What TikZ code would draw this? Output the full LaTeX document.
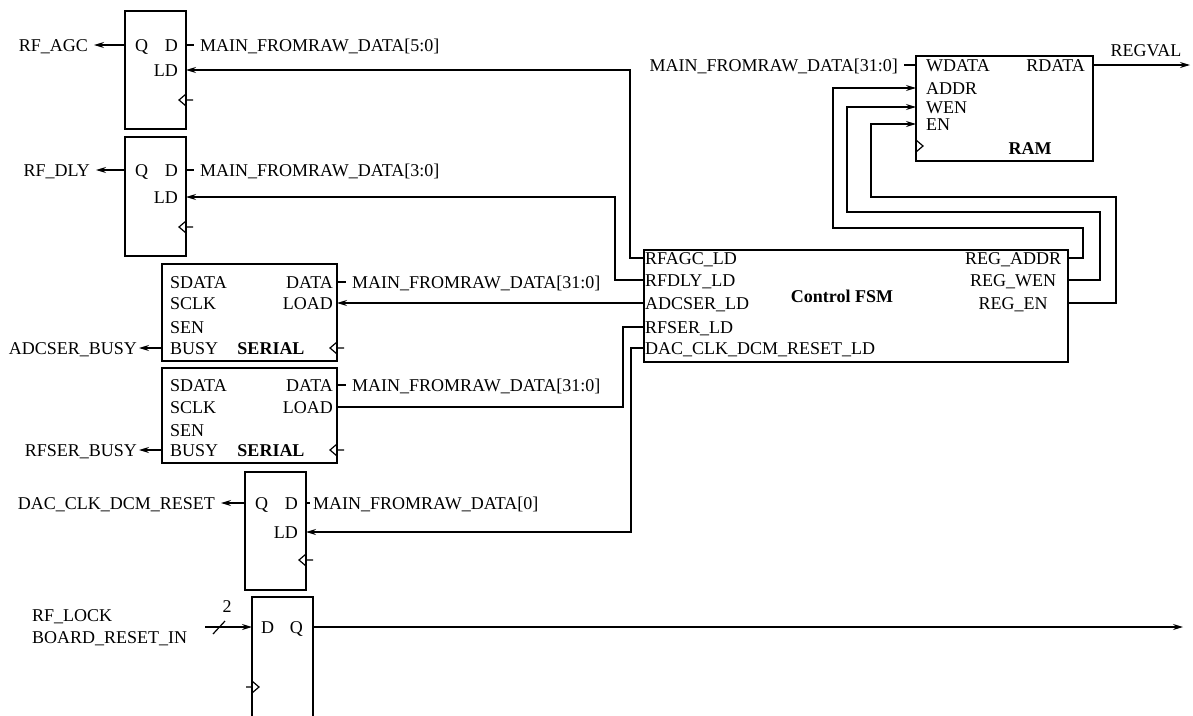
\documentclass[tikz,border=0pt]{standalone}
\usepackage{fontspec}
\setmainfont{Liberation Serif}
\usetikzlibrary{arrows.meta,positioning,calc}
\newcommand{\sigfont}{\fontsize{18}{18}\selectfont}
% clock marks: on the right edge (pointing in, stub out) and on the left edge
\newcommand{\clkright}[1]{\draw[clk] ($(#1)+(0,-6)$) -- ++(-7,6) -- ++(7,6) (#1) -- ++(7,0);}
\newcommand{\clkleft}[2]{\draw[clk] ($(#1)+(0,-6)$) -- ++(7,6) -- ++(-7,6) (#1) -- ++(-#2,0);}

\begin{document}
\begin{tikzpicture}[x=1pt, y=-1pt,
  blk/.style={draw, line width=1.4pt, inner sep=0pt, outer sep=0pt, anchor=north west},
  pl/.style={inner sep=0pt, text height=13pt, text depth=1pt, font=\sigfont},
  sig/.style={inner ysep=0pt, inner xsep=6pt, text height=13pt, text depth=1pt, font=\sigfont},
  ttl/.style={inner sep=0pt, font=\sigfont\bfseries},
  wire/.style={line width=1.2pt},
  arr/.style={wire, -{Stealth[length=10pt,width=6pt]}},
  clk/.style={line width=1.2pt}]
\useasboundingbox[fill=white] (0,0) rectangle (1193,715);

% blocks
\node[blk, minimum width=61pt, minimum height=118pt] (agc) at (125,11) {};
\node[blk, minimum width=61pt, minimum height=119pt] (dly) at (125,137) {};
\node[blk, minimum width=175pt, minimum height=97pt] (sadc) at (162,264) {};
\node[blk, minimum width=175pt, minimum height=95pt] (srf) at (162,368) {};
\node[blk, minimum width=61pt, minimum height=118pt] (dac) at (245,472) {};
\node[blk, minimum width=61pt, minimum height=130pt] (sync) at (252,597) {};
\node[blk, minimum width=424pt, minimum height=112pt] (fsm) at (644,250) {};
\node[blk, minimum width=177pt, minimum height=105pt] (ram) at (916,56) {};

% RF_AGC register
\node[pl, anchor=west] (agcq) at (135,45) {Q};
\node[pl, anchor=east] (agcd) at (178,45) {D};
\node[pl, anchor=east] (agcld) at (178,70) {LD};
\clkright{186,100}
\node[sig, anchor=east] (oagc) at (94,45) {RF\_AGC};
\node[sig, anchor=west] (iagc) at (194,45) {MAIN\_FROMRAW\_DATA[5:0]};
\draw[arr] (agc.west |- agcq) -- (oagc);
\draw[wire] (agc.east |- agcd) -- (iagc);

% RF_DLY register
\node[pl, anchor=west] (dlyq) at (135,170) {Q};
\node[pl, anchor=east] (dlyd) at (178,170) {D};
\node[pl, anchor=east] (dlyld) at (178,197) {LD};
\clkright{186,227}
\node[sig, anchor=east] (odly) at (96,170) {RF\_DLY};
\node[sig, anchor=west] (idly) at (194,170) {MAIN\_FROMRAW\_DATA[3:0]};
\draw[arr] (dly.west |- dlyq) -- (odly);
\draw[wire] (dly.east |- dlyd) -- (idly);

% ADC serial
\node[pl, anchor=west] (sadc1) at (170,282) {SDATA};
\node[pl, anchor=west] (sadc2) at (170,303) {SCLK};
\node[pl, anchor=west] (sadc3) at (170,327) {SEN};
\node[pl, anchor=west] (sadcbusy) at (170,348) {BUSY};
\node[pl, anchor=east] (sadcdata) at (333,282) {DATA};
\node[pl, anchor=east] (sadcload) at (333,303) {LOAD};
\node[ttl] (sadcname) at (271,349) {SERIAL};
\clkright{337,348}
\node[sig, anchor=east, inner xsep=2pt] (oadc) at (139,348) {ADCSER\_BUSY};
\node[sig, anchor=west] (iadc) at (346,282) {MAIN\_FROMRAW\_DATA[31:0]};
\draw[arr] (sadc.west |- sadcbusy) -- (oadc);
\draw[wire] (sadc.east |- sadcdata) -- (iadc);

% RF serial
\node[pl, anchor=west] (srf1) at (170,385) {SDATA};
\node[pl, anchor=west] (srf2) at (170,407) {SCLK};
\node[pl, anchor=west] (srf3) at (170,430) {SEN};
\node[pl, anchor=west] (srfbusy) at (170,450) {BUSY};
\node[pl, anchor=east] (srfdata) at (333,385) {DATA};
\node[pl, anchor=east] (srfload) at (333,407) {LOAD};
\node[ttl] (srfname) at (271,451) {SERIAL};
\clkright{337,450}
\node[sig, anchor=east, inner xsep=2pt] (orf) at (139,450) {RFSER\_BUSY};
\node[sig, anchor=west] (irf) at (346,385) {MAIN\_FROMRAW\_DATA[31:0]};
\draw[arr] (srf.west |- srfbusy) -- (orf);
\draw[wire] (srf.east |- srfdata) -- (irf);

% DAC reset register
\node[pl, anchor=west] (dacq) at (255,503) {Q};
\node[pl, anchor=east] (dacd) at (298,503) {D};
\node[pl, anchor=east] (dacld) at (298,532) {LD};
\clkright{306,560}
\node[sig, anchor=east] (odac) at (221,503) {DAC\_CLK\_DCM\_RESET};
\node[sig, anchor=west, inner xsep=3pt] (idac) at (310,503) {MAIN\_FROMRAW\_DATA[0]};
\draw[arr] (dac.west |- dacq) -- (odac);
\draw[wire] (dac.east |- dacd) -- (idac);

% input synchroniser
\node[pl, anchor=west] (syncd) at (261,627) {D};
\node[pl, anchor=east] (syncq) at (303,627) {Q};
\clkleft{252,687}{6}
\node[sig, anchor=west, inner xsep=0pt] (lock) at (32,615) {RF\_LOCK};
\node[sig, anchor=west, inner xsep=0pt] (brst) at (32,637) {BOARD\_RESET\_IN};
\node[ttl, font=\sigfont] (width) at (227,607) {2};
\coordinate (din) at (205,627);
\coordinate (qend) at (1183,627);
\draw[arr] (din) -- (sync.west |- syncd);
\draw[wire] (213,634) -- (225,621);
\draw[arr] (sync.east |- syncq) -- (qend);

% Control FSM
\node[pl, anchor=west] (fagc) at (645,258) {RFAGC\_LD};
\node[pl, anchor=west] (fdly) at (645,280) {RFDLY\_LD};
\node[pl, anchor=west] (fadc) at (645,303) {ADCSER\_LD};
\node[pl, anchor=west] (frfs) at (645,327) {RFSER\_LD};
\node[pl, anchor=west] (fdac) at (645,348) {DAC\_CLK\_DCM\_RESET\_LD};
\node[pl] (faddr) at (1013,258) {REG\_ADDR};
\node[pl] (fwen) at (1013,280) {REG\_WEN};
\node[pl] (fen) at (1013,303) {REG\_EN};
\node[ttl] (fsmname) at (842,296) {Control FSM};

% RAM
\node[pl, anchor=west] (rwdata) at (926,65) {WDATA};
\node[pl, anchor=west] (raddr) at (926,88) {ADDR};
\node[pl, anchor=west] (rwen) at (926,107) {WEN};
\node[pl, anchor=west] (ren) at (926,124) {EN};
\node[pl, anchor=east] (rrdata) at (1085,65) {RDATA};
\node[ttl] (ramname) at (1030,149) {RAM};
\clkleft{916,146}{0}
\node[sig, anchor=east] (iram) at (904,65) {MAIN\_FROMRAW\_DATA[31:0]};
\node[pl] (regval) at (1146,50) {REGVAL};
\coordinate (rout) at (1190,65);
\draw[wire] (iram) -- (ram.west |- rwdata);
\draw[arr] (ram.east |- rrdata) -- (rout);

% load strobes
\draw[arr] (fsm.west |- fagc) -- ++(-14,0) |- (agc.east |- agcld);
\draw[arr] (fsm.west |- fdly) -- ++(-29,0) |- (dly.east |- dlyld);
\draw[arr] (fsm.west |- fadc) -- (sadc.east |- sadcload);
\draw[wire] (fsm.west |- frfs) -- ++(-21,0) |- (srf.east |- srfload);
\draw[arr] (fsm.west |- fdac) -- ++(-13,0) |- (dac.east |- dacld);

% register file feedback
\draw[arr] (fsm.east |- faddr) -- ++(15,0) |- ++(-250,-30) |- (ram.west |- raddr);
\draw[arr] (fsm.east |- fwen) -- ++(32,0) |- ++(-253,-68) |- (ram.west |- rwen);
\draw[arr] (fsm.east |- fen) -- ++(48,0) |- ++(-245,-106) |- (ram.west |- ren);
\end{tikzpicture}
\end{document}
